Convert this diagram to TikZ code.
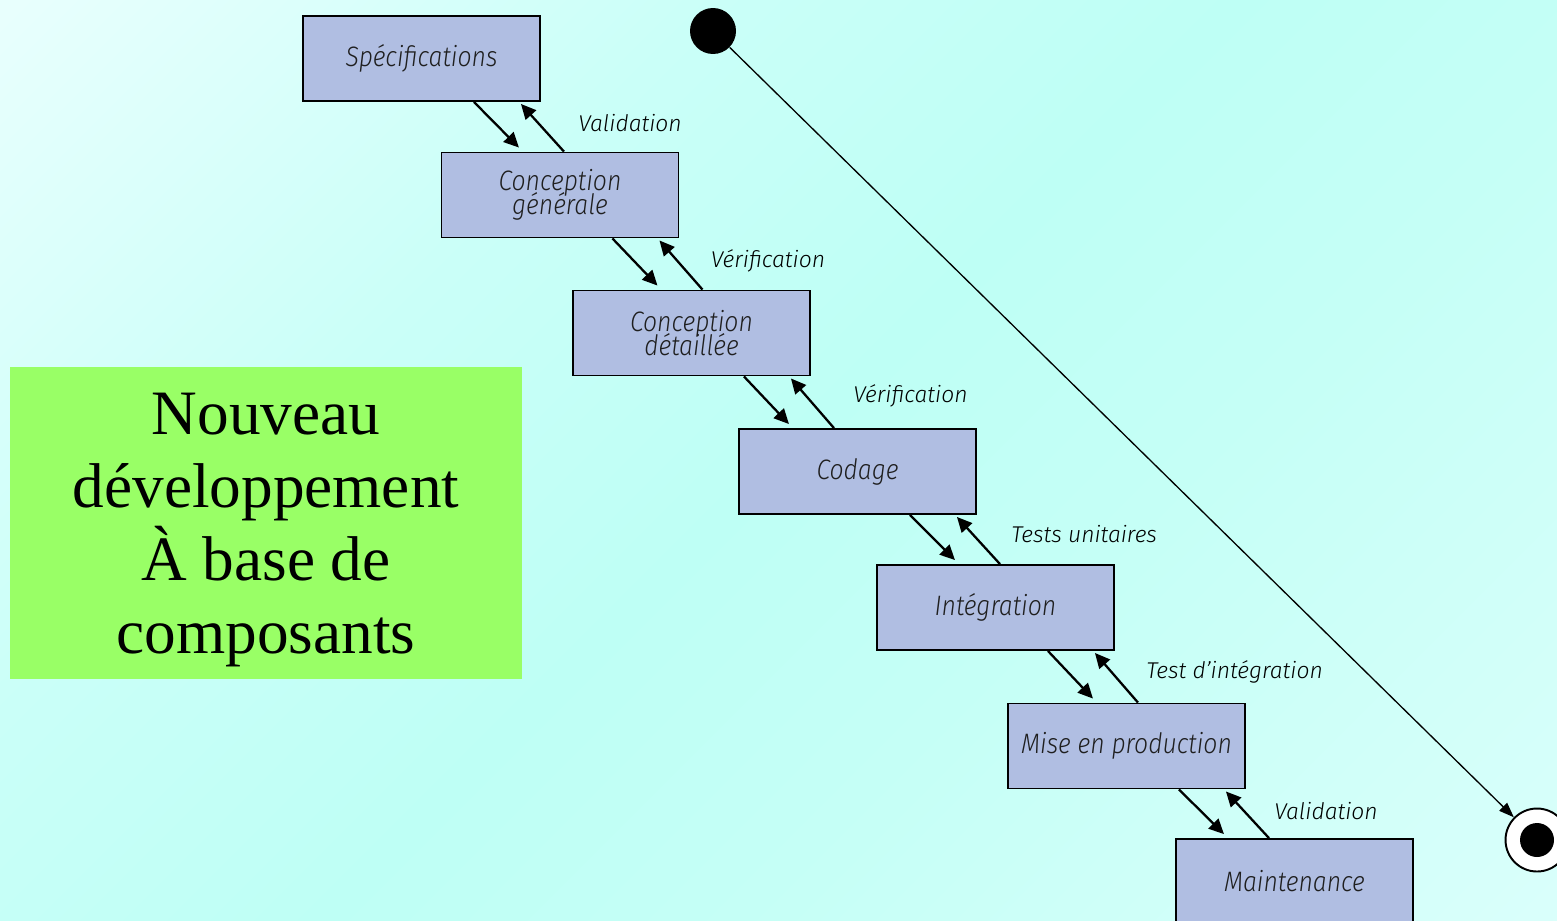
\documentclass[tikz,border=0pt]{standalone}
\usepackage{fontspec}
\setmainfont{Liberation Serif}
\newfontfamily\handfont{Fira Sans Light Italic}
\newfontfamily\stagefont{Fira Sans Light Italic}[FakeStretch=0.88]
\usetikzlibrary{arrows.meta,calc}

\definecolor{bgTop}{RGB}{232,255,253}
\definecolor{bgMid}{RGB}{202,255,248}
\definecolor{bgCyan}{RGB}{190,255,245}
\definecolor{bgMidLow}{RGB}{197,255,246}
\definecolor{bgLow}{RGB}{218,255,251}
\definecolor{stagefill}{RGB}{176,190,226}
\definecolor{notegreen}{RGB}{153,255,102}

% diagonal wash behind the whole picture
\pgfdeclarehorizontalshading{backdrop}{100bp}{%
  color(0bp)=(bgTop); color(15bp)=(bgTop); color(35bp)=(bgMid);
  color(50bp)=(bgCyan); color(62bp)=(bgMidLow); color(86bp)=(bgLow);
  color(100bp)=(bgLow)}

\tikzset{
  stage/.style={draw=black, line width=1.1pt, fill=stagefill,
    minimum width=4.74cm, minimum height=1.7cm, inner sep=0pt,
    font=\stagefont\fontsize{16}{13}\selectfont, text=black!88, align=center},
  flowarrow/.style={line width=1.3pt, -{Triangle[length=0.3cm,width=0.28cm]}},
  steplabel/.style={font=\handfont\fontsize{13}{15}\selectfont, anchor=west,
    inner sep=0pt, text=black},
  note/.style={fill=notegreen, minimum width=10.24cm, minimum height=6.24cm,
    inner sep=0pt, text depth=0pt, font=\fontsize{36}{41.5}\selectfont, align=center},
  bullet/.style={circle, fill=black, inner sep=0pt}
}

\begin{document}
\begin{tikzpicture}[x=0.02cm,y=-0.02cm]
  \useasboundingbox (0,0) rectangle (1557,920);
  \clip (0,0) rectangle (1557,920);
  \shade[shading=backdrop, shading angle=-45] (0,0) rectangle (1557,920);

  % summary box
  \node[note] (summary) at (266,523)
    {Nouveau\\développement\\À base de\\composants};

  % waterfall stages
  \node[stage] (s1) at (421.5,58.5) {Spécifications};
  \node[stage] (s2) at (560,195) {Conception\\[-3pt]générale};
  \node[stage] (s3) at (691.5,333) {Conception\\[-3pt]détaillée};
  \node[stage] (s4) at (857.5,471.5) {Codage};
  \node[stage] (s5) at (995.5,607.5) {Intégration};
  \node[stage] (s6) at (1126.5,746) {Mise en production};
  \node[stage] (s7) at (1294.5,881.5) {Maintenance};

  % forward and feedback arrows between consecutive stages
  \foreach \a/\b in {s1/s2,s2/s3,s3/s4,s4/s5,s5/s6,s6/s7}{
    \draw[flowarrow] ($(\a.south east)+(-67,0)$) -- ($(\a.south east |- \b.north)+(-22,-4)$);
    \draw[flowarrow] ($(\a.south east |- \b.north)+(23,0)$) -- ($(\a.south east)+(-20,2)$);
  }

  % feedback labels
  \node[steplabel] (l1) at ($(s1.south east)+(37,21)$) {Validation};
  \node[steplabel] (l2) at ($(s2.south east)+(31,22)$) {Vérification};
  \node[steplabel] (l3) at ($(s3.south east)+(42,19)$) {Vérification};
  \node[steplabel] (l4) at ($(s4.south east)+(34,19)$) {Tests unitaires};
  \node[steplabel] (l5) at ($(s5.south east)+(31,21)$) {Test d’intégration};
  \node[steplabel] (l6) at ($(s6.south east)+(28,22)$) {Validation};

  % initial and final states
  \node[bullet, minimum size=0.92cm] (start) at (713,31) {};
  \node[circle, draw=black, line width=1.1pt, fill=white, minimum size=1.26cm,
        inner sep=0pt] (stop) at (1537,840) {};
  \node[bullet, minimum size=0.68cm] (stopdot) at (stop.center) {};
  \draw[line width=0.75pt, -{Triangle[length=0.3cm,width=0.22cm]}] (start) -- (stop);
\end{tikzpicture}
\end{document}
